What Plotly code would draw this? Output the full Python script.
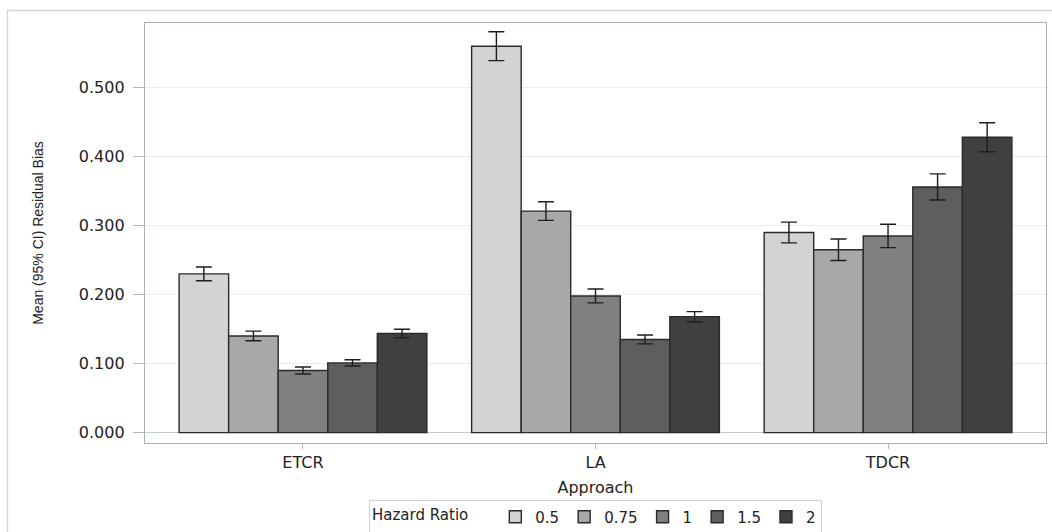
import plotly.graph_objects as go

approaches = ["ETCR", "LA", "TDCR"]
hazard_ratios = ["0.5", "0.75", "1", "1.5", "2"]

# mean residual bias per hazard ratio, across approaches ETCR, LA, TDCR
mean_hr_0_5 = [0.230, 0.560, 0.290]
mean_hr_0_75 = [0.140, 0.321, 0.265]
mean_hr_1 = [0.090, 0.198, 0.285]
mean_hr_1_5 = [0.101, 0.135, 0.356]
mean_hr_2 = [0.1435, 0.168, 0.428]

# half-width of 95% CI
ci_hr_0_5 = [0.010, 0.021, 0.015]
ci_hr_0_75 = [0.007, 0.0135, 0.0155]
ci_hr_1 = [0.005, 0.010, 0.017]
ci_hr_1_5 = [0.0045, 0.0065, 0.019]
ci_hr_2 = [0.0063, 0.0073, 0.021]

y_tickvals = [0.0, 0.1, 0.2, 0.3, 0.4, 0.5]
y_ticktext = ["0.000", "0.100", "0.200", "0.300", "0.400", "0.500"]

means = [mean_hr_0_5, mean_hr_0_75, mean_hr_1, mean_hr_1_5, mean_hr_2]
cis = [ci_hr_0_5, ci_hr_0_75, ci_hr_1, ci_hr_1_5, ci_hr_2]
colors = ["#d3d3d3", "#a8a8a8", "#808080", "#5e5e5e", "#404040"]

FONT = "DejaVu Sans"
TXT = "#222222"

fig = go.Figure()
for hr, m, c, col in zip(hazard_ratios, means, cis, colors):
    fig.add_trace(go.Bar(
        name=hr, x=approaches, y=m,
        marker=dict(color=col, line=dict(color="#2a2a2a", width=1.4)),
        error_y=dict(type="data", array=c, visible=True, color="#1e1e1e",
                     thickness=1.4, width=8),
    ))

W, H = 1052, 532
ml, mr, mt, mb = 145, 6, 23, 89
ph = H - mt - mb

def py(pix):
    return (H - mb - pix) / ph

def px(pix):
    return (pix - ml) / (W - ml - mr)

fig.update_layout(
    width=W, height=H,
    margin=dict(l=ml, r=mr, t=mt, b=mb, pad=0, autoexpand=False),
    paper_bgcolor="white", plot_bgcolor="white",
    barmode="group", bargap=0.153, bargroupgap=0,
    font=dict(family=FONT, size=16, color=TXT),
    xaxis=dict(
        range=[-0.54, 2.54], showgrid=False, zeroline=False,
        ticks="outside", ticklen=5, tickcolor="#b4bac0", tickwidth=1,
        ticklabelstandoff=0,
        tickfont=dict(family=FONT, size=16, color=TXT),
        title=dict(text="Approach", font=dict(family=FONT, size=16, color=TXT), standoff=10),
        showline=True, linecolor="#a8b0b8", linewidth=1.3, mirror=True,
        automargin=False,
    ),
    yaxis=dict(
        range=[-0.0151, 0.5936], tickvals=y_tickvals, ticktext=y_ticktext,
        showgrid=True, gridcolor="#ececec", gridwidth=1,
        zeroline=True, zerolinecolor="#c4c9ce", zerolinewidth=1.3,
        ticks="outside", ticklen=11, tickcolor="#b4bac0", tickwidth=1,
        ticklabelstandoff=5,
        tickfont=dict(family=FONT, size=16, color=TXT),
        title=dict(text="Mean (95% CI) Residual Bias",
                   font=dict(family="Liberation Sans", size=14, color=TXT), standoff=31),
        showline=True, linecolor="#a8b0b8", linewidth=1.3, mirror=True,
        automargin=False,
    ),
    legend=dict(
        orientation="h", x=0.5, xref="paper", xanchor="center",
        y=1 - 517 / H, yref="container", yanchor="middle",
        title=dict(text="Hazard Ratio    ", font=dict(family=FONT, size=15, color=TXT),
                   side="left"),
        font=dict(family=FONT, size=15, color=TXT),
        bordercolor="#d0d0d0", borderwidth=1, bgcolor="white",
        itemwidth=30, tracegroupgap=0, valign="middle",
    ),
    shapes=[dict(type="rect", xref="paper", yref="paper",
                 x0=px(7.5), x1=px(1060), y0=py(540), y1=py(10.5),
                 line=dict(color="#d4d4d4", width=1.3), fillcolor="rgba(0,0,0,0)",
                 layer="below")],
)

fig.write_html("out.html", config={"displayModeBar": False},
               post_script="document.body.style.margin='0';document.body.style.overflow='hidden';")
